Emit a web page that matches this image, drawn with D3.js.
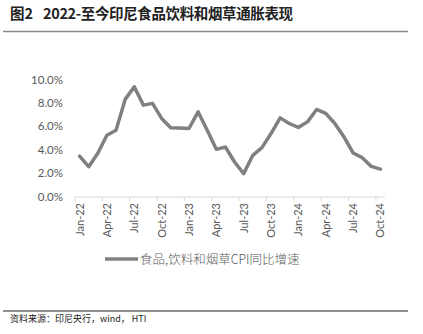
<!DOCTYPE html>
<html><head><meta charset="utf-8">
<script src="https://cdn.jsdelivr.net/npm/d3@7"></script>
<style>body{margin:0;background:#fff}svg{display:block}</style>
</head><body><svg id="c" width="423" height="334"></svg>
<script>
const months = ["Jan-22","Feb-22","Mar-22","Apr-22","May-22","Jun-22","Jul-22","Aug-22","Sep-22","Oct-22","Nov-22","Dec-22",
"Jan-23","Feb-23","Mar-23","Apr-23","May-23","Jun-23","Jul-23","Aug-23","Sep-23","Oct-23","Nov-23","Dec-23",
"Jan-24","Feb-24","Mar-24","Apr-24","May-24","Jun-24","Jul-24","Aug-24","Sep-24","Oct-24"];
const cpiFood = [3.46,2.55,3.7,5.24,5.66,8.3,9.38,7.81,7.96,6.67,5.87,5.86,
5.81,7.24,5.66,4.03,4.23,2.95,1.95,3.52,4.18,5.38,6.72,6.24,
5.9,6.38,7.44,7.1,6.24,5.09,3.72,3.32,2.57,2.34];
const yTicks = [0,2,4,6,8,10];
const titleLabel = "图2";
const titleText = "2022-至今印尼食品饮料和烟草通胀表现";
const legendText = "食品,饮料和烟草CPI同比增速";
const sourceText = "资料来源：印尼央行，wind， HTI";

const svg = d3.select("#c");
const x = d3.scaleBand().domain(months).range([75,385]);
const y = d3.scaleLinear().domain([0,10]).range([196.5,79.5]);
const grayText = "#595959";

// title
svg.append("text").attr("x",10).attr("y",19).attr("font-family","Noto Sans CJK SC").attr("font-weight","bold")
  .attr("font-size",14.5).attr("fill","#222").text(titleLabel);
svg.append("text").attr("x",43).attr("y",19).attr("font-family","Noto Sans CJK SC").attr("font-weight","bold")
  .attr("font-size",14.5).attr("fill","#222").attr("textLength",250).attr("lengthAdjust","spacing").text(titleText);
svg.append("line").attr("x1",3).attr("x2",408).attr("y1",31.5).attr("y2",31.5).attr("stroke","#888").attr("stroke-width",1.5);

// y axis labels
svg.append("g").selectAll("text").data(yTicks).join("text")
  .attr("x",63).attr("y",d=>y(d)+4).attr("text-anchor","end")
  .attr("font-family","Lato").attr("font-size",11.5).attr("fill",grayText)
  .text(d=>d.toFixed(1)+"%");

// x axis
svg.append("line").attr("x1",75).attr("x2",385).attr("y1",197).attr("y2",197).attr("stroke","#d9d9d9").attr("stroke-width",1);
const tickIdx = d3.range(0,months.length,3);
svg.append("g").selectAll("line").data(tickIdx).join("line")
  .attr("x1",i=>x(months[i])).attr("x2",i=>x(months[i])).attr("y1",197).attr("y2",201)
  .attr("stroke","#d9d9d9");
svg.append("g").selectAll("text").data(tickIdx).join("text")
  .attr("transform",i=>`translate(${x(months[i])+x.bandwidth()/2+4},203) rotate(-90)`)
  .attr("text-anchor","end").attr("font-family","Lato").attr("font-size",11).attr("fill",grayText)
  .text(i=>months[i]);

// line
const line = d3.line().x((d,i)=>x(months[i])+x.bandwidth()/2).y(d=>y(d));
svg.append("path").datum(cpiFood).attr("d",line).attr("fill","none").attr("stroke","#808080")
  .attr("stroke-width",3.5).attr("stroke-linejoin","round").attr("stroke-linecap","round");

// legend
svg.append("line").attr("x1",105).attr("x2",138).attr("y1",259).attr("y2",259).attr("stroke","#808080").attr("stroke-width",3.5);
svg.append("text").attr("x",140).attr("y",263.5).attr("font-family","Noto Sans CJK SC").attr("font-size",12.5)
  .attr("font-weight",300).attr("fill",grayText).text(legendText);

// source
svg.append("line").attr("x1",3).attr("x2",408).attr("y1",311).attr("y2",311).attr("stroke","#222").attr("stroke-width",1);
svg.append("text").attr("x",10).attr("y",322).attr("font-family","Noto Sans CJK SC").attr("font-size",9)
  .attr("fill","#222").text(sourceText);
</script></body></html>
